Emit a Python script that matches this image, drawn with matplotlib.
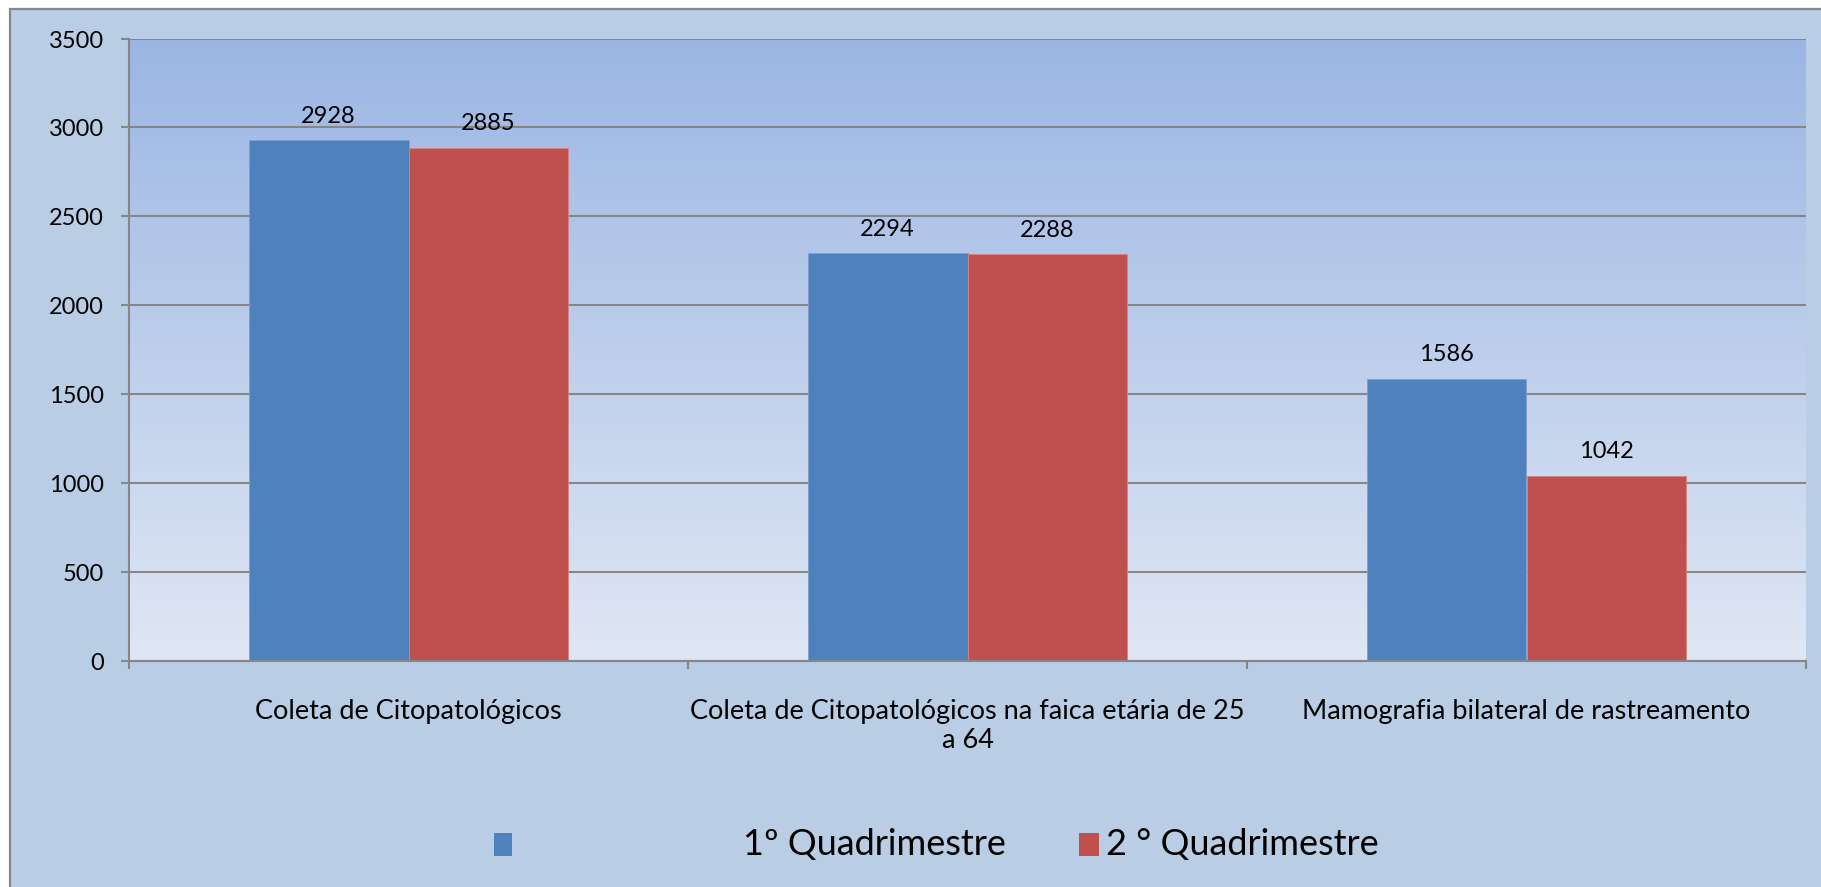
import numpy as np
import matplotlib
matplotlib.use('Agg')
import matplotlib.pyplot as plt
from matplotlib.patches import Rectangle

# Data
categories = ['Coleta de Citopatológicos',
              'Coleta de Citopatológicos na faica etária de 25\na 64',
              'Mamografia bilateral de rastreamento']
series_names = ['1º Quadrimestre', '2 ° Quadrimestre']
q1_values = [2928, 2294, 1586]
q2_values = [2885, 2288, 1042]
y_ticks = [0, 500, 1000, 1500, 2000, 2500, 3000, 3500]

BLUE = '#4f81bd'
RED = '#c0504d'
GRID = '#868686'
FIG_BG = '#b9cde5'

plt.rcParams['font.family'] = ['Lato', 'DejaVu Sans']

W, H = 1821, 887
fig = plt.figure(figsize=(W / 100, 8.875), dpi=100, facecolor='white')

# outer chart frame (gray border on top and left)
fig.patches.append(Rectangle((10 / W, -0.01), 1, 1.01 - 9 / H, transform=fig.transFigure,
                             facecolor=FIG_BG, edgecolor='#878787', linewidth=1.6, zorder=-5))

ax = fig.add_axes([129 / W, 1 - 661 / H, (1806 - 129) / W, (661 - 39) / H])
ax.set_facecolor('none')

# vertical gradient for the plot area
grad = np.linspace(0, 1, 256).reshape(-1, 1)
top = np.array([0x9b, 0xb6, 0xe4]) / 255
bottom = np.array([0xe0, 0xe7, 0xf4]) / 255
img = top + (bottom - top) * grad[..., None]
img = img.reshape(256, 1, 3)
ax.imshow(img, extent=[0, 1, 0, 1], transform=ax.transAxes, aspect='auto', zorder=0)

x = np.arange(len(categories))
width = 1 / 3.5
b1 = ax.bar(x - width / 2, q1_values, width, color=BLUE, edgecolor='#7a9fd0', linewidth=0.6, zorder=2)
b2 = ax.bar(x + width / 2, q2_values, width, color=RED, edgecolor='#d98482', linewidth=0.6, zorder=2)

ax.bar_label(b1, fontsize=17, padding=10, zorder=3)
ax.bar_label(b2, fontsize=17, padding=10, zorder=3)

ax.set_xlim(-0.5, len(categories) - 0.5)
ax.set_ylim(0, 3500)
ax.set_yticks(y_ticks)
ax.set_xticks(x)
ax.set_xticklabels(categories, fontsize=19.5, linespacing=1.22)
ax.set_xticks(np.arange(len(categories) + 1) - 0.5, minor=True)

ax.yaxis.grid(True, color=GRID, linewidth=1.5, zorder=1)
ax.set_axisbelow(True)
ax.tick_params(axis='y', labelsize=17, length=6, width=1.5, color=GRID, pad=12)
ax.tick_params(axis='x', which='major', length=0, pad=27)
ax.tick_params(axis='x', which='minor', length=6, width=1.5, color=GRID)

for s in ['top', 'right']:
    ax.spines[s].set_visible(False)
for s in ['left', 'bottom']:
    ax.spines[s].set_color(GRID)
    ax.spines[s].set_linewidth(1.5)

# legend, laid out as in the original
fig.patches.append(Rectangle((494 / W, 1 - 856 / H), 18 / W, 23 / H, transform=fig.transFigure,
                             facecolor=BLUE, edgecolor='none'))
fig.text(743 / W, 1 - 844 / H, series_names[0], fontsize=26, va='center', ha='left')
fig.patches.append(Rectangle((1079 / W, 1 - 856 / H), 20 / W, 23 / H, transform=fig.transFigure,
                             facecolor=RED, edgecolor='none'))
fig.text(1106 / W, 1 - 844 / H, series_names[1], fontsize=26, va='center', ha='left')

fig.savefig('out.png', dpi=100, facecolor=fig.get_facecolor())
